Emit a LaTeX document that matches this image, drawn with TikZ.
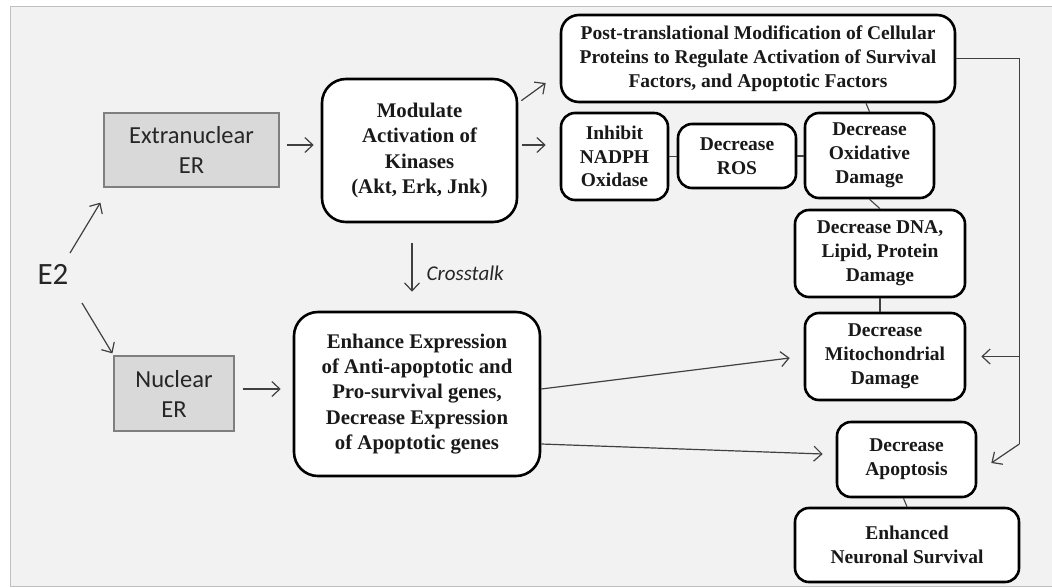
\documentclass[tikz,border=0pt]{standalone}
\usepackage{fontspec}
\setmainfont{Liberation Serif}
\newfontfamily\califont{Carlito}
\usetikzlibrary{arrows.meta,calc}
\definecolor{bgc}{HTML}{F2F2F2}
\definecolor{framec}{HTML}{C0C0C0}
\definecolor{erfill}{HTML}{D9D9D9}
\definecolor{erdraw}{HTML}{7F7F7F}
\definecolor{arrc}{HTML}{404040}
\begin{document}
\begin{tikzpicture}[x=1pt,y=-1pt,
  bbox/.style={draw=black, line width=2.6pt, rounded corners=14pt, fill=white, align=center,
    font=\bfseries\fontsize{19.5pt}{23.8pt}\selectfont, text=black!90, inner sep=1pt},
  bigbox/.style={bbox, rounded corners=24pt, font=\bfseries\fontsize{20.8pt}{25.4pt}\selectfont},
  erbox/.style={draw=erdraw, line width=1.2pt, fill=erfill, align=center,
    font=\califont\fontsize{24.5pt}{30pt}\selectfont, text=black!85, inner sep=1pt},
  arr/.style={draw=arrc, line width=1.2pt, -{Straight Barb[length=8pt,width=15pt,line width=1.2pt]}},
  link/.style={draw=arrc, line width=1.1pt}
]
\useasboundingbox (0,0) rectangle (1052,587);
\fill[white] (0,0) rectangle (1052,587);
\fill[bgc] (10,6) rectangle (1052,586);
\draw[framec, line width=1pt] (1052,6) -- (10,6) -- (10,586) -- (1052,586);

% nodes
\node[font=\califont\fontsize{31pt}{36pt}\selectfont, text=black!85, inner sep=0pt] (e2) at (53,274) {E2};
\node[erbox, minimum width=175pt, minimum height=74pt] (ext) at (191.5,150) {Extranuclear\\ER};
\node[erbox, minimum width=120pt, minimum height=75pt] (nuc) at (174,393.5) {Nuclear\\ER};
\node[bigbox, minimum width=195pt, minimum height=143pt] (mod) at (419.5,150.5) {Modulate\\Activation of\\Kinases\\(Akt, Erk, Jnk)};
\node[bigbox, minimum width=246pt, minimum height=164pt] (enh) at (417,394) {Enhance Expression\\of Anti-apoptotic and\\Pro-survival genes,\\Decrease Expression\\of Apoptotic genes};
\node[bbox, rounded corners=18pt, minimum width=394pt, minimum height=87pt] (post) at (758,58.5) {Post-translational Modification of Cellular\\Proteins to Regulate Activation of Survival\\Factors, and Apoptotic Factors};
\node[bbox, minimum width=107pt, minimum height=87pt] (inh) at (614.5,156.5) {Inhibit\\NADPH\\Oxidase};
\node[bbox, minimum width=118pt, minimum height=64pt] (ros) at (737,156) {Decrease\\ROS};
\node[bbox, minimum width=129pt, minimum height=85pt] (oxi) at (869.5,155.5) {Decrease\\Oxidative\\Damage};
\node[bbox, minimum width=170pt, minimum height=87pt] (dna) at (880,253.5) {Decrease DNA,\\Lipid, Protein\\Damage};
\node[bbox, minimum width=160pt, minimum height=87pt] (mito) at (885,356.5) {Decrease\\Mitochondrial\\Damage};
\node[bbox, minimum width=139pt, minimum height=75pt] (apop) at (906.5,459.5) {Decrease\\Apoptosis};
\node[bbox, minimum width=224pt, minimum height=74pt] (surv) at (907,545) {Enhanced\\Neuronal Survival};

% arrows from E2
\draw[arr] ($(e2)+(17,-21)$) -- ($(ext.south west)+(-3,15)$);
\draw[arr] ($(e2)+(29,29)$) -- ($(nuc.north west)+(-1,-2)$);
% ER to boxes
\draw[arr] ($(ext.east)+(7,-5)$) -- ($(mod.west)+(-7,-5.5)$);
\draw[arr] ($(nuc.east)+(8,-4.5)$) -- ($(enh.west)+(-12,-5)$);
% crosstalk
\draw[arr] ($(mod.south)+(-7.5,20)$) -- ($(enh.north)+(-5,-19)$);
\node[anchor=west, font=\califont\itshape\fontsize{21pt}{24pt}\selectfont, text=black!85, inner sep=0pt] (ct) at ($(mod.south)+(7,50)$) {Crosstalk};
% kinases outputs
\draw[arr] ($(mod.north east)+(3,23)$) -- ($(post.west)+(-14,24.5)$);
\draw[arr] ($(mod.east)+(4,-5.5)$) -- ($(inh.west)+(-14,-11.5)$);
% chain links
\draw[link] (inh.east) -- (inh.east -| ros.west);
\draw[link] (ros.east) -- (ros.east -| oxi.west);
\draw[link] ($(post.south)+(108,0)$) -- (oxi.north);
\draw[link] (oxi.south) -- (dna.north);
\draw[link] (dna.south) -- (dna.south |- mito.north);
\draw[link] ($(mito.south)+(6,0)$) -- ($(mito.south)+(6,0)$ |- apop.north);
\draw[link] ($(apop.south)+(-3,0)$) -- (surv.north);
% enhance outputs
\draw[arr] ($(enh.east)+(0,-5)$) -- ($(mito.west)+(-14,1.5)$);
\draw[arr] ($(enh.east)+(0,50)$) -- ($(apop.west)+(-13,-5.5)$);
% feedback
\coordinate (fbtop) at ($(post.east)+(63,0)$);
\coordinate (fbmid) at ($(fbtop |- mito.east)$);
\coordinate (fbbot) at ($(fbtop)+(0,385.5)$);
\draw[link] (post.east) -- (fbtop) -- (fbbot);
\draw[arr] (fbmid) -- ($(mito.east)+(15,0)$);
\draw[arr] (fbbot) -- ($(apop.east)+(14,3.5)$);
\end{tikzpicture}
\end{document}
